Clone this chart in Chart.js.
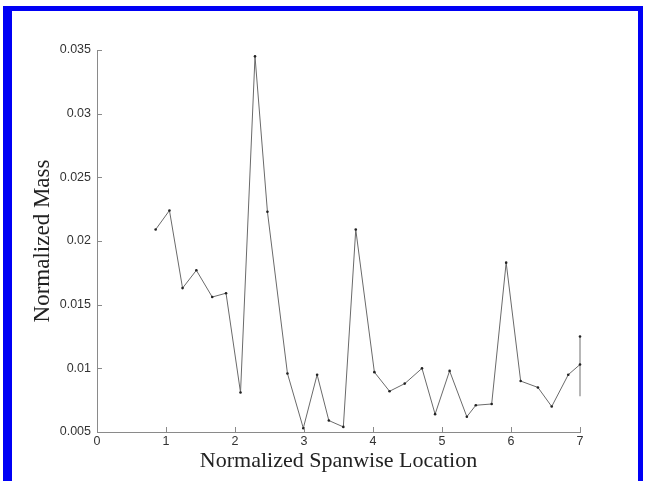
<!DOCTYPE html>
<html>
<head>
<meta charset="utf-8">
<script src="https://cdn.jsdelivr.net/npm/chart.js@4.4.1/dist/chart.umd.min.js"></script>
<style>
  body { margin: 0; background: #fff; }
  #wrap { position: relative; width: 645px; height: 481px; overflow: hidden; }
  #frame {
    position: absolute; left: 3px; top: 6px; width: 640px; height: 480px;
    border-left: 9px solid #0000f5; border-top: 5px solid #0000f5; border-right: 5px solid #0000f5;
    box-sizing: border-box;
  }
  canvas { position: absolute; left: 0; top: 0; }
</style>
</head>
<body>
<div id="wrap">
  <canvas id="myChart" width="645" height="481"></canvas>
  <div id="frame"></div>
</div>
<script>
// spanwise location (x) and normalized mass (y)
const spanX = [0.85, 1.05, 1.24, 1.44, 1.67, 1.87, 2.08, 2.29, 2.47, 2.76,
               2.99, 3.19, 3.36, 3.57, 3.75, 4.02, 4.24, 4.46, 4.71, 4.90,
               5.11, 5.36, 5.49, 5.72, 5.93, 6.14, 6.39, 6.59, 6.83, 7.00];
const massY = [0.0209, 0.0224, 0.0163, 0.0177, 0.0156, 0.0159, 0.0081, 0.0345, 0.0223, 0.0096,
               0.0053, 0.0095, 0.0059, 0.0054, 0.0209, 0.0097, 0.0082, 0.0088, 0.0100, 0.0064,
               0.0098, 0.0062, 0.0071, 0.0072, 0.0183, 0.0090, 0.0085, 0.0070, 0.0095, 0.0103];
// vertical bar at the last station
const barX = [7, 7];
const barY = [0.0125, 0.0078];

const xTicks = [0, 1, 2, 3, 4, 5, 6, 7];
const yTicks = [0.005, 0.01, 0.015, 0.02, 0.025, 0.03, 0.035];
const yTickLabels = ['0.005', '0.01', '0.015', '0.02', '0.025', '0.03', '0.035'];

const linePts = spanX.map((x, i) => ({x: x, y: massY[i]}));
const barPts = barX.map((x, i) => ({x: x, y: barY[i]}));

// matlab style ticks pointing into the plot
const inwardTicks = {
  id: 'inwardTicks',
  afterDraw(chart) {
    const ctx = chart.ctx;
    const xs = chart.scales.x, ys = chart.scales.y;
    const x0 = xs.left, y0 = ys.bottom;
    ctx.save();
    ctx.strokeStyle = '#8a8a8a';
    ctx.lineWidth = 1;
    ctx.beginPath();
    xTicks.forEach(v => {
      const px = Math.round(xs.getPixelForValue(v)) + 0.5;
      ctx.moveTo(px, y0);
      ctx.lineTo(px, y0 - 5);
    });
    yTicks.forEach(v => {
      const py = Math.round(ys.getPixelForValue(v)) + 0.5;
      ctx.moveTo(x0, py);
      ctx.lineTo(x0 + 5, py);
    });
    ctx.stroke();
    ctx.restore();
  }
};

const myChart = document.getElementById('myChart');

let lineChart = new Chart(myChart, {
  type: 'scatter',
  data: {
    datasets: [{
      data: linePts,
      showLine: true,
      borderColor: '#6a6a6a',
      borderWidth: 1,
      pointRadius: 1.3,
      pointBackgroundColor: '#222',
      pointBorderWidth: 0,
      clip: false
    }, {
      data: barPts,
      showLine: true,
      borderColor: '#888',
      borderWidth: 1.2,
      pointRadius: [1.3, 0],
      pointBackgroundColor: '#222',
      pointBorderWidth: 0,
      clip: false
    }]
  },
  options: {
    responsive: false,
    animation: false,
    events: [],
    layout: { padding: { left: 0, top: 50, right: 65, bottom: 0 } },
    plugins: { legend: { display: false }, tooltip: { enabled: false } },
    scales: {
      x: {
        type: 'linear',
        min: 0,
        max: 7,
        afterFit(s) { s.height = 49; },
        afterBuildTicks(s) { s.ticks = xTicks.map(v => ({value: v})); },
        grid: { drawOnChartArea: false, drawTicks: false },
        border: { display: true, color: '#8a8a8a', width: 1 },
        ticks: {
          padding: 2,
          color: '#333',
          font: { family: 'Liberation Sans', size: 12.5 },
          maxRotation: 0
        },
        title: {
          display: true,
          text: 'Normalized Spanwise Location',
          color: '#222',
          font: { family: 'Liberation Serif', size: 22 },
          padding: { top: 0, bottom: 7 }
        }
      },
      y: {
        min: 0.005,
        max: 0.035,
        afterFit(s) { s.width = 97; },
        afterBuildTicks(s) { s.ticks = yTicks.map(v => ({value: v})); },
        grid: { drawOnChartArea: false, drawTicks: false },
        border: { display: true, color: '#8a8a8a', width: 1 },
        ticks: {
          padding: 6,
          color: '#333',
          font: { family: 'Liberation Sans', size: 12.5 },
          callback: (v) => yTickLabels[yTicks.findIndex(t => Math.abs(t - v) < 1e-9)]
        },
        title: {
          display: true,
          text: 'Normalized Mass',
          color: '#222',
          font: { family: 'Liberation Serif', size: 23 },
          padding: { top: 29, bottom: 0 }
        }
      }
    }
  },
  plugins: [inwardTicks]
});
</script>
</body>
</html>
